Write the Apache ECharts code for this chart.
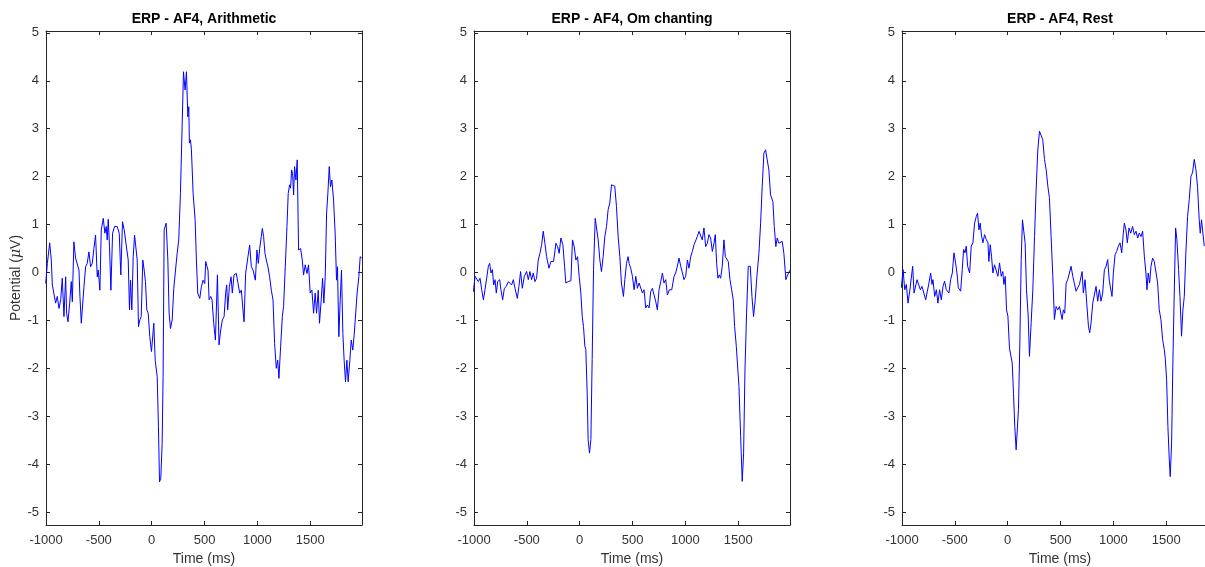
<!DOCTYPE html>
<html lang="en">
<head>
<meta charset="UTF-8">
<title>ERP - AF4</title>
<script src="https://cdn.jsdelivr.net/npm/echarts@6/dist/echarts.min.js"></script>
<style>
  html, body { margin: 0; padding: 0; background: #fff; }
</style>
</head>
<body>
<div id="main" style="width: 1205px; height: 567px;"></div>
<script>
// tick labels
const xTicks = [-1000, -500, 0, 500, 1000, 1500]
const yTicks = [-5, -4, -3, -2, -1, 0, 1, 2, 3, 4, 5]
const titles = ['ERP - AF4, Arithmetic', 'ERP - AF4, Om chanting', 'ERP - AF4, Rest']

// Arithmetic: time (ms) / potential (uV)
const arithT = [-1003,-987,-965,-950,-940,-924,-909,-893,-877,-861,-846,-830,-814,-805,-792,-776,-761,-751,-736,-720,
  -704,-688,-679,-666,-654,-641,-625,-610,-594,-578,-562,-547,-531,-515,-506,-490,-477,-458,-443,-430,
  -421,-411,-399,-386,-370,-351,-326,-307,-292,-276,-260,-244,-235,-222,-210,-200,-188,-175,-162,-150,
  -137,-125,-112,-99,-84,-71,-59,-46,-33,-18,-2,20,33,52,64,74,86,99,108,118,
  137,153,165,178,194,209,225,241,256,272,288,301,316,329,342,351,357,367,376,392,
  411,423,436,455,470,486,502,511,524,533,543,559,571,587,603,622,637,653,669,685,
  700,710,719,735,751,763,779,801,817,833,848,874,889,911,927,943,959,981,996,1009,
  1022,1034,1047,1059,1072,1085,1100,1116,1132,1148,1163,1179,1192,1204,1220,1236,1248,1264,1280,1292,
  1305,1314,1324,1333,1343,1352,1365,1377,1390,1409,1425,1437,1453,1469,1484,1500,1516,1532,1547,1560,
  1576,1588,1604,1617,1629,1642,1655,1667,1680,1692,1705,1721,1736,1749,1758,1771,1784,1796,1809,1821,
  1834,1847,1859,1875,1888,1903,1916,1932,1944,1960,1973,1988]
const arithV = [-0.23,0.19,0.62,0.26,-0.26,-0.3,-0.64,-0.5,-0.75,-0.57,-0.12,-0.92,-0.09,-0.85,-1.03,-0.64,-0.19,-0.61,0.64,0.3,
  0.3,0.05,-0.5,-1.06,-1.1,-0.3,0.12,0.19,0.43,0.12,0.19,0.5,0.78,-0.09,0.05,-0.37,0.89,1.13,0.82,0.96,
  0.68,1.11,0.54,-0.37,0.82,0.96,0.96,0.82,-0.05,1.06,0.89,0.85,0.47,0.26,-0.78,-0.16,-0.78,0.33,0.78,0.75,
  0.26,-1.13,-0.99,-0.92,0.26,0.05,-0.19,-0.78,-0.85,-1.34,-1.65,-1.06,-1.83,-2.17,-3.22,-4.37,-4.3,-3.57,-2.17,0.89,
  1.03,0.26,-0.85,-1.17,-0.99,-0.33,-0.37,0.4,0.68,1.65,3.04,4.19,3.81,4.19,3.25,3.46,2.7,2.77,2.56,1.65,
  1.1,0.26,-0.43,-0.54,-0.3,-0.16,-0.23,0.23,0.19,0.05,-0.57,-0.5,-0.57,-1.06,-1.41,-0.05,-1.51,-1.2,-0.99,-0.92,
  -0.43,-0.26,-0.78,-0.3,-0.09,-0.43,-0.05,-0.02,-0.23,-0.43,-0.37,-1.03,-0.02,0.33,0.57,0.12,0.05,-0.16,0.47,0.19,
  0.5,0.54,0.92,0.75,0.4,0.26,0.12,-0.09,-0.37,-0.57,-1.48,-2.0,-1.83,-2.21,-1.55,-0.92,-0.71,0.12,0.96,1.65,
  1.83,1.76,2.14,2.07,1.62,2.21,1.93,2.35,0.47,0.5,0.26,-0.05,0.16,-0.02,0.16,-0.43,-0.37,-0.85,-0.43,-0.85,
  -0.37,-1.06,-0.57,-0.12,-0.64,-0.09,1.24,1.65,2.21,1.79,1.93,1.51,0.82,-0.16,0.12,-1.34,-0.57,0.05,-1.27,-1.83,
  -2.28,-1.83,-2.28,-1.83,-1.41,-1.62,-1.3,-1.27,-0.43,-0.09,0.33,0.3]

// Om chanting
const omT = [-1006,-990,-974,-959,-943,-927,-911,-896,-880,-864,-852,-839,-826,-814,-801,-789,-776,-757,-745,-729,
  -713,-694,-675,-660,-644,-628,-612,-590,-575,-559,-543,-524,-502,-486,-471,-455,-439,-423,-408,-392,
  -376,-360,-345,-329,-313,-291,-272,-247,-225,-209,-194,-178,-159,-143,-131,-108,-83,-68,-52,-36,
  -20,-5,11,24,36,49,58,71,80,93,106,118,131,147,162,175,191,206,222,238,
  254,269,285,301,317,332,348,364,380,395,414,427,443,458,
  468,483,499,515,531,546,562,578,594,609,625,641,657,672,688,704,720,735,751,767,
  783,798,814,830,849,871,893,908,924,940,956,972,987,1003,1019,1034,1050,1066,1082,1097,
  1113,1129,1145,1160,1176,1192,1208,1223,1239,1255,1271,1283,1296,1308,1321,1334,1349,1365,1378,1390,
  1406,1422,1438,1453,1466,1482,1494,1507,1523,1538,1551,1564,1579,1595,1614,1630,1645,1661,1677,1696,
  1712,1727,1743,1759,1775,1790,1806,1828,1841,1856,1869,1885,1900,1916,1932,1951,1967,1982,1990]
const omV = [-0.4,-0.08,-0.05,-0.19,-0.12,-0.36,-0.57,-0.36,-0.33,0.13,0.19,-0.01,0.06,-0.26,-0.15,-0.43,-0.19,-0.15,-0.36,-0.57,
  -0.33,-0.29,-0.19,-0.22,-0.26,-0.15,-0.33,-0.54,-0.29,0.02,-0.33,-0.08,0.02,-0.15,0.02,-0.15,-0.01,-0.19,-0.12,0.26,
  0.4,0.58,0.86,0.61,0.33,0.09,0.23,0.23,0.61,0.54,0.4,0.72,0.58,0.13,-0.22,-0.19,-0.17,0.68,0.54,0.26,
  0.33,-0.08,-0.43,-0.92,-1.13,-1.54,-1.61,-2.52,-3.49,-3.77,-3.49,-1.82,0.06,1.13,1.1,0.68,0.26,0.02,0.33,0.75,
  0.96,1.31,1.45,1.83,1.8,1.8,1.38,0.75,0.33,-0.22,-0.5,-0.15,0.19,0.33,
  0.19,0.09,-0.08,-0.36,-0.08,-0.33,-0.22,-0.19,-0.43,-0.36,-0.74,-0.68,-0.74,-0.4,-0.33,-0.47,-0.61,-0.78,-0.36,-0.19,
  -0.01,-0.22,-0.15,-0.47,-0.36,-0.36,-0.08,-0.01,0.13,0.3,0.13,-0.01,-0.15,-0.08,0.26,0.09,0.33,0.44,0.58,0.58,
  0.75,0.86,0.82,0.68,0.93,0.54,0.61,0.79,0.72,0.44,0.61,0.79,0.19,-0.12,-0.05,-0.12,0.13,0.68,0.33,0.37,
  0.23,-0.15,-0.36,-0.57,-1.13,-1.54,-1.51,-2.38,-3.42,-4.36,-3.77,-2.03,-0.85,0.13,0.13,-0.5,-0.92,-0.57,-0.08,0.4,
  1.03,1.8,2.49,2.56,2.6,2.14,1.62,1.48,0.96,0.54,0.72,0.61,0.58,0.65,0.4,-0.15,-0.05,-0.08,0.05]

// Rest (cut off at the right edge of the figure)
const restT = [-1006,-990,-974,-959,-943,-927,-911,-899,-886,-871,-858,-842,-826,-811,-795,-776,-760,-745,-729,-716,
  -707,-691,-675,-660,-644,-628,-612,-597,-581,-556,-540,-524,-508,-493,-480,-467,-445,-430,-417,-404,
  -392,-379,-360,-345,-329,-313,-297,-285,-272,-260,-247,-234,-219,-203,-187,-178,-165,-153,-140,-124,
  -108,-93,-77,-61,-46,-36,-23,-11,2,17,30,43,55,67,80,90,102,115,128,140,
  153,165,178,194,206,222,238,254,269,285,301,317,332,348,364,380,395,
  411,427,442,458,474,490,505,515,527,540,553,568,584,600,616,631,647,663,679,694,
  704,716,732,748,764,776,789,805,820,836,852,868,883,899,915,931,946,962,978,987,
  1000,1016,1031,1047,1063,1079,1094,1104,1119,1132,1148,1164,1182,1198,1214,1230,1245,1261,1277,1293,
  1308,1318,1330,1343,1356,1371,1387,1403,1419,1434,1450,1466,1482,1491,1504,1516,1529,1538,1551,1563,
  1576,1589,1601,1617,1630,1645,1658,1671,1686,1702,1718,1734,1749,1765,1781,1797,1812,1822,1834,1847,1860]
const restV = [-0.32,0.06,-0.36,-0.25,-0.64,-0.39,-0.36,0.13,-0.43,-0.46,-0.15,-0.18,-0.36,-0.29,-0.32,-0.57,-0.39,-0.22,-0.01,-0.25,
  -0.15,-0.5,-0.36,-0.64,-0.36,-0.57,-0.29,-0.18,-0.36,-0.43,-0.15,-0.01,0.41,0.2,-0.01,-0.32,-0.39,0.06,0.48,0.41,
  0.55,0.13,-0.01,0.55,0.62,1.03,1.17,1.24,0.89,1.03,0.75,0.62,0.79,0.69,0.62,0.23,0.58,0.34,-0.01,0.16,
  0.2,-0.08,0.2,-0.08,0.02,-0.25,-0.08,-0.78,-0.91,-1.58,-1.61,-1.89,-2.52,-3.21,-3.7,-3.7,-2.86,-1.47,0.27,1.1,
  1.14,0.62,-0.36,-0.91,-1.75,-1.05,-0.36,0.75,1.72,2.56,2.95,2.91,2.77,2.36,2.15,1.8,1.56,
  0.75,-0.08,-0.98,-0.71,-0.78,-0.71,-0.71,-0.98,-0.78,-0.85,-0.22,-0.15,-0.01,0.13,-0.08,-0.08,-0.39,-0.36,-0.25,-0.25,
  0.02,-0.43,-0.15,-0.64,-1.12,-1.26,-1.05,-0.64,-0.6,-0.29,-0.6,-0.36,-0.6,-0.43,0.06,0.13,0.27,-0.18,-0.22,-0.5,
  -0.01,0.37,0.44,0.55,0.62,0.41,0.82,1.03,0.89,0.62,0.93,0.82,0.96,0.79,0.86,0.72,0.82,0.75,0.86,0.34,
  -0.01,-0.36,-0.01,-0.22,0.13,0.3,0.23,0.2,-0.22,-0.78,-0.98,-1.4,-1.61,-1.79,-2.24,-3.21,-3.91,-4.26,-3.56,-1.89,
  -0.43,0.93,0.69,0.06,-0.5,-1.33,-0.78,-0.5,0.41,1.17,1.52,2.01,2.08,2.36,2.15,1.77,1.1,0.82,1.1,1.07,0.55]

function pairs(t, v) {
  return t.map((x, i) => [x, v[i]])
}

const panels = [pairs(arithT, arithV), pairs(omT, omV), pairs(restT, restV)]
const lefts = [46, 474, 902]
const axisColor = '#262626'
const textColor = '#333'
const font = 'Liberation Sans, Arial, Helvetica, sans-serif'

const grid = []
const xAxis = []
const yAxis = []
const series = []

panels.forEach((data, i) => {
  // the third panel runs past the right edge of the figure, as in the original
  const clipped = i === 2
  grid.push({ left: lefts[i], top: 31, width: 316, height: 494, outerBoundsMode: 'none', containLabel: false })
  const line = { onZero: false, lineStyle: { color: axisColor, width: 1 } }
  const tick = list => ({ inside: true, length: 4, customValues: list, lineStyle: { color: axisColor } })
  // bottom
  xAxis.push({
    gridIndex: i, type: 'value', position: 'bottom', min: -1000, max: 1990,
    axisLine: line,
    axisTick: tick(xTicks),
    axisLabel: { customValues: xTicks, formatter: v => String(v), margin: 9, color: textColor, fontSize: 13, fontFamily: font },
    splitLine: { show: false },
    name: 'Time (ms)', nameLocation: 'middle', nameGap: 25,
    nameTextStyle: { color: textColor, fontSize: 14, fontFamily: font }
  })
  // top (box + title)
  xAxis.push({
    gridIndex: i, type: 'value', position: 'top', min: -1000, max: 1990,
    axisLine: line,
    axisTick: tick(xTicks),
    axisLabel: { show: false },
    splitLine: { show: false },
    name: titles[i], nameLocation: 'middle', nameGap: 5,
    nameTextStyle: { color: '#000', fontSize: 14, fontWeight: 'bold', fontFamily: font }
  })
  yAxis.push({
    gridIndex: i, type: 'value', position: 'left', min: -5.27, max: 5.04,
    axisLine: line,
    axisTick: tick(yTicks),
    axisLabel: { customValues: yTicks, formatter: v => String(v), margin: 7, color: textColor, fontSize: 13, fontFamily: font },
    splitLine: { show: false },
    name: i === 0 ? 'Potential ({i|μ}V)' : '', nameLocation: 'middle', nameGap: 22,
    nameTextStyle: {
      color: textColor, fontSize: 14, fontFamily: font,
      rich: { i: { fontStyle: 'italic', fontSize: 14, color: textColor, fontFamily: 'DejaVu Serif, serif' } }
    }
  })
  yAxis.push({
    gridIndex: i, type: 'value', position: 'right', min: -5.27, max: 5.04,
    axisLine: { show: !clipped, onZero: false, lineStyle: { color: axisColor, width: 1 } },
    axisTick: Object.assign(tick(yTicks), { show: !clipped }),
    axisLabel: { show: false },
    splitLine: { show: false }
  })
  series.push({
    type: 'line', xAxisIndex: 2 * i, yAxisIndex: 2 * i, data: data,
    showSymbol: false, symbol: 'none',
    lineStyle: { color: '#0000ff', width: 1 }
  })
})

const myChart = echarts.init(document.getElementById('main'))
myChart.setOption({
  backgroundColor: '#fff',
  animation: false,
  grid: grid,
  xAxis: xAxis,
  yAxis: yAxis,
  series: series
})
</script>
</body>
</html>
